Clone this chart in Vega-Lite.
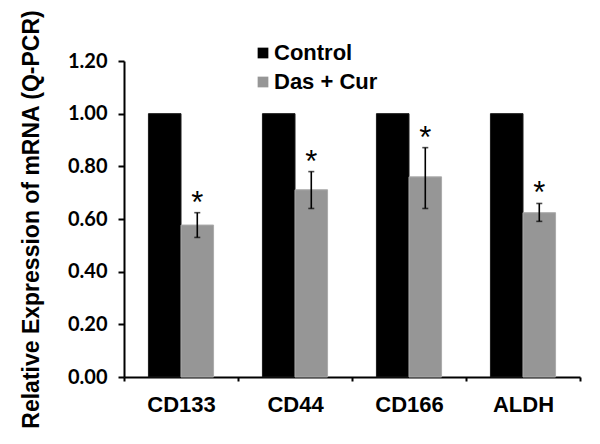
{
  "$schema": "https://vega.github.io/schema/vega-lite/v6.json",
  "autosize": {"type": "none"},
  "width": 456,
  "height": 316,
  "padding": {"left": 124, "top": 61, "right": 20, "bottom": 67},
  "background": "white",
  "data": {
    "values": [
      {"marker": "CD133", "group": "Control", "value": 1.0},
      {"marker": "CD133", "group": "Das + Cur", "value": 0.577, "lo": 0.53, "hi": 0.624},
      {"marker": "CD44", "group": "Control", "value": 1.0},
      {"marker": "CD44", "group": "Das + Cur", "value": 0.711, "lo": 0.64, "hi": 0.78},
      {"marker": "CD166", "group": "Control", "value": 1.0},
      {"marker": "CD166", "group": "Das + Cur", "value": 0.76, "lo": 0.64, "hi": 0.871},
      {"marker": "ALDH", "group": "Control", "value": 1.0},
      {"marker": "ALDH", "group": "Das + Cur", "value": 0.624, "lo": 0.591, "hi": 0.659}
    ]
  },
  "encoding": {
    "x": {
      "field": "marker",
      "type": "nominal",
      "sort": ["CD133", "CD44", "CD166", "ALDH"],
      "scale": {"paddingInner": 0, "paddingOuter": 0},
      "axis": {
        "title": null,
        "labelAngle": 0,
        "tickBand": "extent",
        "labelFont": "Liberation Sans",
        "labelFontWeight": "bold",
        "labelFontSize": 22,
        "labelColor": "black",
        "labelPadding": 13,
        "domainColor": "black",
        "domainWidth": 2,
        "tickColor": "black",
        "tickWidth": 2,
        "tickSize": 4
      }
    },
    "xOffset": {
      "field": "group",
      "type": "nominal",
      "sort": ["Control", "Das + Cur"],
      "scale": {"paddingInner": 0, "paddingOuter": 0.75}
    }
  },
  "layer": [
    {
      "mark": {"type": "bar"},
      "encoding": {
        "y": {
          "field": "value",
          "type": "quantitative",
          "scale": {"domain": [0, 1.2], "nice": false},
          "axis": {
            "title": "Relative Expression of mRNA (Q-PCR)",
            "titleFont": "Liberation Sans",
            "titleFontWeight": "bold",
            "titleFontSize": 23,
            "titleColor": "black",
            "titlePadding": 24,
            "values": [0, 0.2, 0.4, 0.6, 0.8, 1.0, 1.2],
            "format": ".2f",
            "grid": false,
            "labelFont": "Lato",
            "labelFontWeight": "bold",
            "labelFontSize": 20,
            "labelColor": "black",
            "labelPadding": 11,
            "domainColor": "black",
            "domainWidth": 2,
            "tickColor": "black",
            "tickWidth": 2,
            "tickSize": 6
          }
        },
        "stroke": {
          "field": "group",
          "type": "nominal",
          "scale": {"domain": ["Control", "Das + Cur"], "range": ["#1a1a1a", "#ababab"]},
          "legend": null
        },
        "color": {
          "field": "group",
          "type": "nominal",
          "scale": {"domain": ["Control", "Das + Cur"], "range": ["#000000", "#969696"]},
          "legend": {
            "title": null,
            "orient": "none",
            "legendX": 128,
            "legendY": -19,
            "symbolType": "square",
            "symbolSize": 115,
            "symbolStrokeWidth": 0,
            "labelFont": "Liberation Sans",
            "labelFontWeight": "bold",
            "labelFontSize": 22,
            "labelColor": "black",
            "labelOffset": 0,
            "rowPadding": 7
          }
        }
      }
    },
    {
      "transform": [{"filter": "datum.hi != null"}],
      "mark": {"type": "rule", "color": "black", "strokeWidth": 1.6},
      "encoding": {
        "y": {"field": "lo", "type": "quantitative"},
        "y2": {"field": "hi"}
      }
    },
    {
      "transform": [{"filter": "datum.hi != null"}],
      "mark": {"type": "tick", "color": "black", "thickness": 1.6, "size": 6},
      "encoding": {
        "y": {"field": "lo", "type": "quantitative"}
      }
    },
    {
      "transform": [{"filter": "datum.hi != null"}],
      "mark": {"type": "tick", "color": "black", "thickness": 1.6, "size": 6},
      "encoding": {
        "y": {"field": "hi", "type": "quantitative"}
      }
    },
    {
      "transform": [{"filter": "datum.hi != null"}],
      "mark": {"type": "text", "text": "*", "font": "Liberation Sans", "fontSize": 31, "baseline": "alphabetic", "dy": 0},
      "encoding": {
        "y": {"field": "hi", "type": "quantitative"}
      }
    }
  ],
  "config": {
    "view": {"stroke": null}
  }
}
